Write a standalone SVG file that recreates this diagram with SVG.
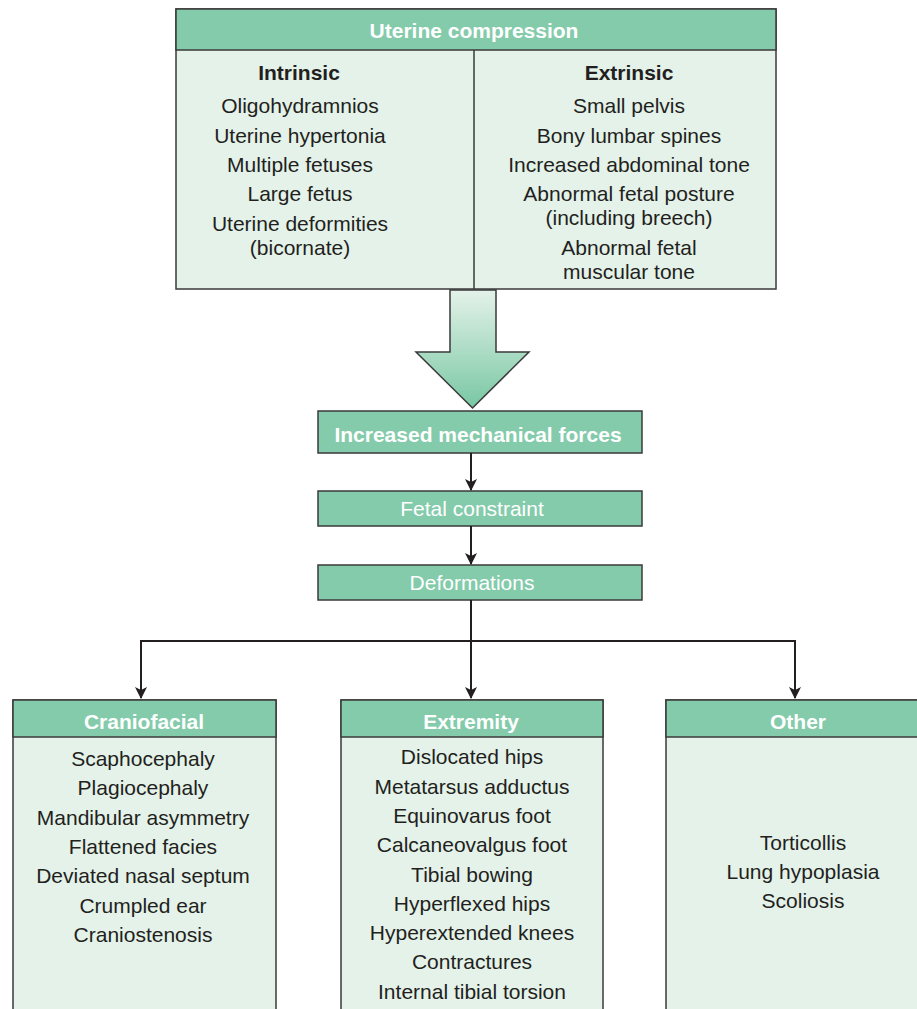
<svg xmlns="http://www.w3.org/2000/svg" width="917" height="1009" viewBox="0 0 917 1009">
<style>
.hdr{fill:#84CBAB;stroke:#3a3a3a;stroke-width:1.5}
.body{fill:#E4F2E9;stroke:#3a3a3a;stroke-width:1.5}
.ht{font-family:"Liberation Sans",Arial,sans-serif;font-size:21px;font-weight:bold;fill:#fff;text-anchor:middle}
.hn{font-family:"Liberation Sans",Arial,sans-serif;font-size:21px;fill:#fff;text-anchor:middle}
.bt{font-family:"Liberation Sans",Arial,sans-serif;font-size:21px;fill:#231F20;text-anchor:middle}
.bb{font-family:"Liberation Sans",Arial,sans-serif;font-size:21px;font-weight:bold;fill:#231F20;text-anchor:middle}
.conn{fill:none;stroke:#231F20;stroke-width:2}
</style>
<defs>
<linearGradient id="ag" x1="0" y1="0" x2="0" y2="1">
<stop offset="0" stop-color="#E4F2E9"/>
<stop offset="1" stop-color="#78C7A3"/>
</linearGradient>
<marker id="ah" markerWidth="12" markerHeight="14" refX="11" refY="6" orient="auto" markerUnits="userSpaceOnUse">
<path d="M0,0 L12,6 L0,12 L3,6 Z" fill="#231F20"/>
</marker>
</defs>

<g id="uterine-compression">
<rect class="body" x="176" y="9" width="600" height="280"/>
<rect class="hdr" x="176" y="9" width="600" height="41"/>
<line x1="474" y1="50" x2="474" y2="289" stroke="#3a3a3a" stroke-width="1.5"/>
<text class="ht" x="474" y="38">Uterine compression</text>
<text class="bb" x="299" y="80">Intrinsic</text>
<text class="bt" x="300" y="113">Oligohydramnios</text>
<text class="bt" x="300" y="143">Uterine hypertonia</text>
<text class="bt" x="300" y="172">Multiple fetuses</text>
<text class="bt" x="300" y="201">Large fetus</text>
<text class="bt" x="300" y="231">Uterine deformities</text>
<text class="bt" x="300" y="255">(bicornate)</text>
<text class="bb" x="629" y="80">Extrinsic</text>
<text class="bt" x="629" y="113">Small pelvis</text>
<text class="bt" x="629" y="143">Bony lumbar spines</text>
<text class="bt" x="629" y="172">Increased abdominal tone</text>
<text class="bt" x="629" y="201">Abnormal fetal posture</text>
<text class="bt" x="629" y="225">(including breech)</text>
<text class="bt" x="629" y="255">Abnormal fetal</text>
<text class="bt" x="629" y="279">muscular tone</text>
</g>

<g id="big-arrow">
<path d="M450,290 L496,290 L496,352 L529,352 L472.5,408 L416,352 L450,352 Z" fill="url(#ag)" stroke="#3a3a3a" stroke-width="1.5"/>
</g>

<g id="mechanical-forces">
<rect class="hdr" x="318" y="411" width="324" height="42"/>
<text class="ht" x="478" y="442">Increased mechanical forces</text>
</g>

<g id="fetal-constraint">
<rect class="hdr" x="318" y="491" width="324" height="35"/>
<text class="hn" x="472" y="516">Fetal constraint</text>
</g>

<g id="deformations">
<rect class="hdr" x="318" y="565" width="324" height="35"/>
<text class="hn" x="472" y="590">Deformations</text>
</g>

<g id="connectors">
<line class="conn" x1="471" y1="453" x2="471" y2="490" marker-end="url(#ah)"/>
<line class="conn" x1="471" y1="526" x2="471" y2="564" marker-end="url(#ah)"/>
<line class="conn" x1="471" y1="600" x2="471" y2="641"/>
<polyline class="conn" points="141,698 141,641 795,641 795,698"/>
<line class="conn" x1="141" y1="660" x2="141" y2="698" marker-end="url(#ah)"/>
<line class="conn" x1="471" y1="641" x2="471" y2="698" marker-end="url(#ah)"/>
<line class="conn" x1="795" y1="660" x2="795" y2="698" marker-end="url(#ah)"/>
</g>

<g id="craniofacial">
<rect class="body" x="13" y="700" width="263" height="320"/>
<rect class="hdr" x="13" y="700" width="263" height="37"/>
<text class="ht" x="144" y="729">Craniofacial</text>
<text class="bt" x="143" y="766">Scaphocephaly</text>
<text class="bt" x="143" y="795">Plagiocephaly</text>
<text class="bt" x="143" y="825">Mandibular asymmetry</text>
<text class="bt" x="143" y="854">Flattened facies</text>
<text class="bt" x="143" y="883">Deviated nasal septum</text>
<text class="bt" x="143" y="913">Crumpled ear</text>
<text class="bt" x="143" y="942">Craniostenosis</text>
</g>

<g id="extremity">
<rect class="body" x="341" y="700" width="262" height="320"/>
<rect class="hdr" x="341" y="700" width="262" height="37"/>
<text class="ht" x="471" y="729">Extremity</text>
<text class="bt" x="472" y="764">Dislocated hips</text>
<text class="bt" x="472" y="794">Metatarsus adductus</text>
<text class="bt" x="472" y="823">Equinovarus foot</text>
<text class="bt" x="472" y="852">Calcaneovalgus foot</text>
<text class="bt" x="472" y="882">Tibial bowing</text>
<text class="bt" x="472" y="911">Hyperflexed hips</text>
<text class="bt" x="472" y="940">Hyperextended knees</text>
<text class="bt" x="472" y="969">Contractures</text>
<text class="bt" x="472" y="999">Internal tibial torsion</text>
</g>

<g id="other">
<rect class="body" x="666" y="700" width="280" height="320"/>
<rect class="hdr" x="666" y="700" width="280" height="37"/>
<text class="ht" x="798" y="729">Other</text>
<text class="bt" x="803" y="850">Torticollis</text>
<text class="bt" x="803" y="879">Lung hypoplasia</text>
<text class="bt" x="803" y="908">Scoliosis</text>
</g>
</svg>
